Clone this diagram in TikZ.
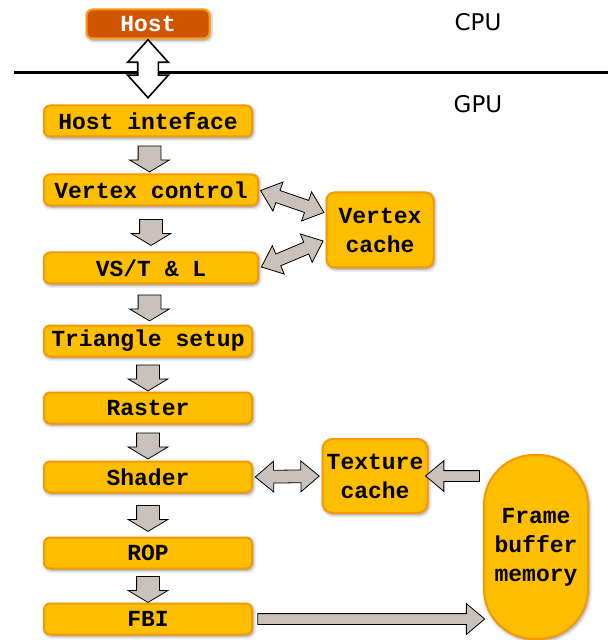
\documentclass[tikz,border=0pt]{standalone}
\usepackage{fontspec}
\setmonofont{Liberation Mono}
\setsansfont{DejaVu Sans}
\usetikzlibrary{shapes.arrows,shadows.blur}

\definecolor{boxfill}{HTML}{FFBE00}
\definecolor{boxline}{HTML}{F79800}
\definecolor{hostfill}{HTML}{CF5500}
\definecolor{hostline}{HTML}{FF9A10}
\definecolor{arrfill}{HTML}{CAC2BA}

\begin{document}
\begin{tikzpicture}[x=0.5pt,y=-0.5pt,
		unit/.style={rectangle,rounded corners=3pt,draw=boxline,line width=1pt,fill=boxfill,
			font=\fontsize{11.5}{14.5}\selectfont\ttfamily\bfseries,align=center,
			minimum width=104pt,minimum height=15.5pt,inner sep=1pt,
			blur shadow={shadow blur steps=6,shadow xshift=0.6pt,shadow yshift=-0.8pt,shadow opacity=45}},
		downarr/.style={single arrow,draw=black,line width=0.4pt,fill=arrfill,rotate=-90,
			inner xsep=0pt,inner ysep=5.5pt,single arrow head extend=4.25pt,
			single arrow tip angle=118,minimum height=13pt},
		link/.style={double arrow,draw=black,line width=0.4pt,fill=arrfill,
			inner xsep=0pt,inner ysep=3pt,double arrow head extend=4.5pt,
			double arrow tip angle=80,minimum height=32pt},
		feed/.style={single arrow,draw=black,line width=0.4pt,fill=arrfill,
			inner xsep=0pt,inner ysep=2.5pt,single arrow head extend=5pt,
			single arrow tip angle=80},
		label/.style={font=\fontsize{11.5}{14}\selectfont\sffamily}]
		\useasboundingbox (0,0) rectangle (608,640);
		% CPU / GPU split
		\draw[line width=1.5pt] (14,73) -- (608,73);
		\node[label] (Cpu) at (478,22) {CPU};
		\node[label] (Gpu) at (478,104) {GPU};
		
		\node[unit,fill=hostfill,draw=hostline,text=white,minimum width=61.5pt,minimum height=14.5pt] (Host) at (148,24) {Host};
		\node[unit] (HostIf) at (148,121) {Host inteface};
		\node[unit,minimum width=107pt] (VtxCtrl) at (151,190) {Vertex control};
		\node[unit,minimum width=107pt] (VsTL) at (151,268) {VS/T \& L};
		\node[unit] (TriSetup) at (148,341) {Triangle setup};
		\node[unit] (Raster) at (148,408) {Raster};
		\node[unit] (Shader) at (148,477) {Shader};
		\node[unit] (Rop) at (148,553) {ROP};
		\node[unit] (Fbi) at (148,619) {FBI};
		\node[unit,rounded corners=4pt,minimum width=53.5pt,minimum height=37.5pt] (VtxCache) at (380,230) {Vertex\\cache};
		\node[unit,rounded corners=5pt,minimum width=52.5pt,minimum height=37pt] (TexCache) at (375,476) {Texture\\cache};
		\node[unit,rounded corners=25pt,minimum width=52pt,minimum height=92pt] (FrameBuf) at (536,547) {Frame\\buffer\\memory};
		
		\path (Host.south) -- (HostIf.north) node[pos=0.45,double arrow,draw=black,line width=0.8pt,fill=white,rotate=90,
			inner xsep=0pt,inner ysep=4.75pt,double arrow head extend=5pt,double arrow tip angle=84,minimum height=29pt] (HostLink) {};
		\foreach \a/\b in {HostIf/VtxCtrl,VtxCtrl/VsTL,VsTL/TriSetup,TriSetup/Raster,Raster/Shader,Shader/Rop,Rop/Fbi}
			\path (\a.south) -- (\b.north) node[midway,downarr] {};
		
		\path (VtxCtrl.east) -- ([yshift=8.5pt]VtxCache.west) node[midway,sloped,link,minimum height=33.5pt] (CtrlLink) {};
		\path (VsTL.east) -- ([yshift=-5pt]VtxCache.west) node[midway,sloped,link,minimum height=33.5pt] (VsLink) {};
		\path (Shader.east) -- (TexCache.west) node[midway,sloped,link] (TexLink) {};
		\path (FrameBuf.west |- TexCache.east) -- (TexCache.east) node[midway,sloped,allow upside down,feed,minimum height=27pt] (TexFeed) {};
		\path (Fbi.east) -- (FrameBuf.west |- Fbi.east) node[midway,sloped,feed,minimum height=113.5pt] (FbFeed) {};
		
	\end{tikzpicture}
\end{document}
